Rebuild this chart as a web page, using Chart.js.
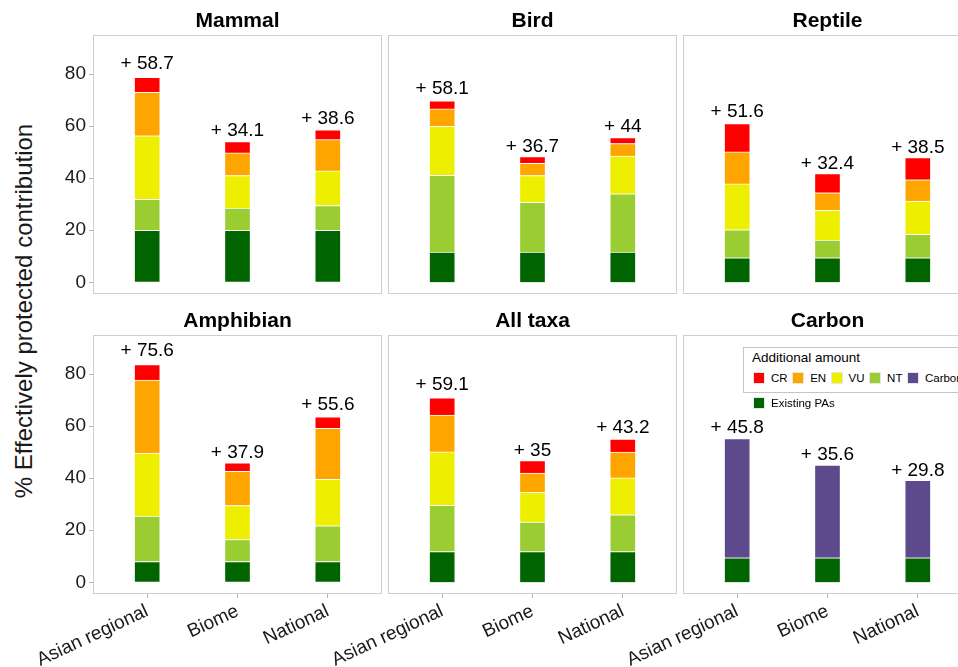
<!DOCTYPE html>
<html>
<head>
<meta charset="utf-8">
<title>Effectively protected contribution</title>
<script src="https://cdn.jsdelivr.net/npm/chart.js@4.4.1/dist/chart.umd.min.js"></script>
<style>
  html, body { margin: 0; padding: 0; background: #fff; }
  #page { position: relative; width: 958px; height: 667px; overflow: hidden; font-family: 'Liberation Sans', Arial, sans-serif; color: #000; }
  #page canvas { position: absolute; left: 0; top: 0; z-index: 1; }
  #y-title { position: absolute; left: -276px; top: 297px; width: 600px; height: 28px; line-height: 28px; text-align: center; font-size: 24px; transform: rotate(-90deg); color: #1a1a1a; }
  #legend-box { position: absolute; left: 743px; top: 347px; width: 230px; height: 44px; border: 1px solid #c4c4c4; background: #fff; z-index: 2; }
  #legend-title { position: absolute; left: 8px; top: 2px; font-size: 13.5px; line-height: 15px; white-space: nowrap; }
  #legend-row { position: absolute; left: 9px; top: 23px; display: flex; align-items: center; white-space: nowrap; }
  #legend-existing { position: absolute; left: 753px; top: 396px; display: flex; align-items: center; z-index: 2; white-space: nowrap; }
  .key { width: 12px; height: 12px; margin-right: 6px; box-sizing: border-box; border: 1px solid #e6e6e6; }
  .key-label { font-size: 11.5px; line-height: 14px; margin-right: 4.5px; }
</style>
</head>
<body>
<div id="page">
  <div id="y-title">% Effectively protected contribution</div>
  <div id="legend-box">
    <div id="legend-title">Additional amount</div>
    <div id="legend-row"></div>
  </div>
  <div id="legend-existing"></div>
</div>
<script>
'use strict';

// categories on each panel's x axis
let categories = ['Asian regional', 'Biome', 'National'];

// facet titles, in panel order
let taxa = ['Mammal', 'Bird', 'Reptile', 'Amphibian', 'All taxa', 'Carbon'];

// y axis tick labels
let yTicks = [0, 20, 40, 60, 80];

// one row per panel (same order as taxa), one value per category
let existingPAs = [
  [20, 20, 20],
  [11.6, 11.6, 11.6],
  [9.4, 9.4, 9.4],
  [8, 8, 8],
  [11.8, 11.8, 11.8],
  [9.4, 9.4, 9.4]
];
let ntValues = [
  [11.9, 8.5, 9.5],
  [29.5, 19.1, 22.4],
  [10.8, 6.8, 9.0],
  [17.4, 8.4, 13.7],
  [17.8, 11.3, 14.1],
  null
];
let vuValues = [
  [24.4, 12.5, 13.3],
  [18.8, 10.3, 14.5],
  [17.6, 11.4, 12.8],
  [24.2, 13.1, 17.9],
  [20.5, 11.5, 14.2],
  null
];
let enValues = [
  [16.7, 8.7, 12.0],
  [6.7, 4.7, 4.8],
  [12.3, 6.8, 8.2],
  [28.1, 13.1, 19.5],
  [14.1, 7.4, 9.9],
  null
];
let crValues = [
  [5.7, 4.4, 3.8],
  [3.1, 2.6, 2.3],
  [10.9, 7.4, 8.5],
  [5.9, 3.3, 4.5],
  [6.7, 4.8, 5.0],
  null
];
let carbonValues = [null, null, null, null, null, [45.8, 35.6, 29.8]];

// the "+ x" labels printed above the bars
let addedAmounts = [
  [58.7, 34.1, 38.6],
  [58.1, 36.7, 44],
  [51.6, 32.4, 38.5],
  [75.6, 37.9, 55.6],
  [59.1, 35, 43.2],
  [45.8, 35.6, 29.8]
];

// stacking order, bottom to top
let seriesNames = ['Existing PAs', 'NT', 'VU', 'EN', 'CR', 'Carbon'];
let seriesColors = ['#006400', '#9ACD32', '#EEEE00', '#FFA500', '#FF0000', '#5D4A8C'];
let seriesValues = [existingPAs, ntValues, vuValues, enValues, crValues, carbonValues];

// legend order
let legendOrder = ['CR', 'EN', 'VU', 'NT', 'Carbon'];

// panel geometry (px)
let panelLefts = [93, 388, 683];
let panelTops = [35, 335];
let panelW = 289;
let panelH = 259;
let canvasW = 1000;
let canvasH = 667;

let FONT = "'Liberation Sans', Arial, sans-serif";
Chart.defaults.font.family = FONT;

let page = document.getElementById('page');

function makePanel(p) {
  let col = p % 3;
  let row = Math.floor(p / 3);
  let left = panelLefts[col];
  let top = panelTops[row];
  let showY = col === 0;
  let showX = row === 1;

  let canvas = document.createElement('canvas');
  canvas.width = canvasW;
  canvas.height = canvasH;
  page.appendChild(canvas);

  let datasets = [];
  for (let k = 0; k < seriesValues.length; k++) {
    let vals = seriesValues[k][p];
    if (!vals) continue;
    datasets.push({
      label: seriesNames[k],
      data: vals.map((v, j) => ({ x: j + 1, y: v })),
      backgroundColor: seriesColors[k],
      borderColor: '#ffffff',
      borderWidth: 1,
      barThickness: 26
    });
  }

  // stack heights for the labels
  let totals = categories.map((c, j) => datasets.reduce((s, d) => s + d.data[j].y, 0));

  let panelDecor = {
    id: 'panelDecor',
    afterDraw(chart) {
      let ctx = chart.ctx;
      let a = chart.chartArea;
      let yScale = chart.scales.y;
      let xScale = chart.scales.x;
      ctx.save();
      // amounts above bars
      ctx.fillStyle = '#000';
      ctx.textAlign = 'center';
      ctx.textBaseline = 'alphabetic';
      ctx.font = '19px ' + FONT;
      totals.forEach((t, j) => {
        let x = xScale.getPixelForValue(j + 1);
        let y = yScale.getPixelForValue(t * 1.04);
        ctx.fillText('+ ' + addedAmounts[p][j], x, y);
      });
      // panel border
      ctx.strokeStyle = '#cfcfcf';
      ctx.lineWidth = 1;
      ctx.strokeRect(a.left + 0.5, a.top + 0.5, a.right - a.left - 1, a.bottom - a.top - 1);
      // facet title
      ctx.font = 'bold 21px ' + FONT;
      ctx.fillStyle = '#000';
      ctx.fillText(taxa[p], (a.left + a.right) / 2, a.top - 8);
      ctx.restore();
    }
  };

  return new Chart(canvas, {
    type: 'bar',
    data: { datasets: datasets },
    options: {
      responsive: false,
      animation: false,
      devicePixelRatio: 1,
      layout: {
        padding: {
          left: showY ? left - 40 : left,
          right: canvasW - (left + panelW),
          top: top,
          bottom: showX ? 0 : canvasH - (top + panelH)
        }
      },
      scales: {
        x: {
          type: 'linear',
          min: 0.4,
          max: 3.6,
          offset: false,
          stacked: true,
          display: showX,
          afterBuildTicks: (s) => { s.ticks = categories.map((c, j) => ({ value: j + 1 })); },
          afterFit: showX ? (s) => { s.height = canvasH - (top + panelH); } : undefined,
          ticks: {
            callback: (v) => categories[v - 1],
            autoSkip: false,
            minRotation: 25,
            maxRotation: 25,
            padding: 2,
            color: '#1a1a1a',
            font: { size: 19 }
          },
          grid: { offset: false, drawOnChartArea: false, drawTicks: true, tickLength: 4, color: '#b3b3b3' },
          border: { display: false }
        },
        y: {
          type: 'linear',
          min: -4.5,
          max: 95,
          stacked: true,
          display: showY,
          afterBuildTicks: (s) => { s.ticks = yTicks.map((v) => ({ value: v })); },
          afterFit: showY ? (s) => { s.width = 40; } : undefined,
          ticks: { padding: 3, color: '#1a1a1a', font: { size: 19 } },
          grid: { drawOnChartArea: false, drawTicks: true, tickLength: 4, color: '#b3b3b3' },
          border: { display: false }
        }
      },
      plugins: {
        legend: { display: false },
        tooltip: { enabled: false }
      }
    },
    plugins: [panelDecor]
  });
}

for (let p = 0; p < taxa.length; p++) {
  makePanel(p);
}

// legend built from the series arrays
function legendItem(name) {
  let frag = document.createDocumentFragment();
  let key = document.createElement('div');
  key.className = 'key';
  key.style.background = seriesColors[seriesNames.indexOf(name)];
  let label = document.createElement('span');
  label.className = 'key-label';
  label.textContent = name;
  frag.appendChild(key);
  frag.appendChild(label);
  return frag;
}

let legendRow = document.getElementById('legend-row');
legendOrder.forEach((name) => legendRow.appendChild(legendItem(name)));
document.getElementById('legend-existing').appendChild(legendItem('Existing PAs'));
</script>
</body>
</html>
